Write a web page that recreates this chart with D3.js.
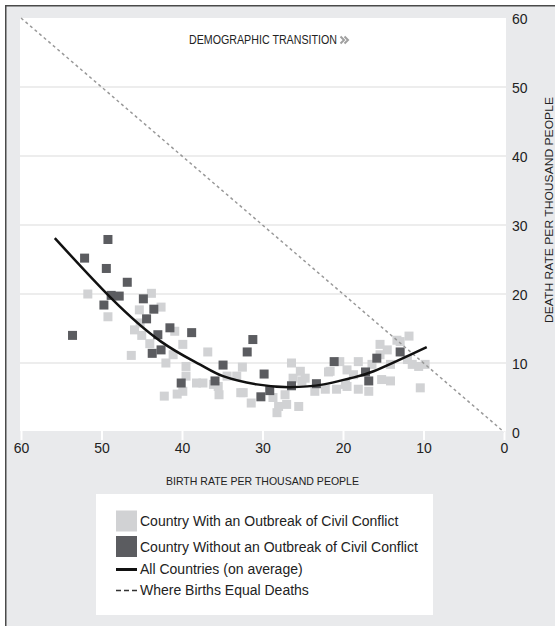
<!DOCTYPE html>
<html>
<head>
<meta charset="utf-8">
<script src="https://cdn.jsdelivr.net/npm/d3@7"></script>
<style>
  body { margin: 0; background: #fff; }
  svg { display: block; font-family: "Liberation Sans", Arial, sans-serif; }
</style>
</head>
<body>
<div id="chart"></div>
<script>
const width = 555;
const height = 626;

// Birth rate (x) and death rate (y), per thousand people
const withConflict = [
  [51.7, 20.0], [49.2, 16.7], [43.8, 20.1], [42.6, 18.1], [45.3, 17.7],
  [45.9, 14.8], [45.0, 14.0], [45.2, 15.8], [44.0, 12.8], [46.3, 11.1],
  [40.9, 14.6], [39.9, 12.7], [42.0, 10.0], [41.1, 11.2], [39.5, 9.5],
  [39.5, 8.1], [38.2, 7.1], [39.9, 5.9], [42.2, 5.2], [40.6, 5.5],
  [36.8, 11.6], [32.5, 9.4], [35.4, 5.4], [33.2, 8.1], [32.4, 5.7],
  [31.4, 4.2], [28.2, 2.8], [28.0, 3.7], [27.0, 4.0], [25.5, 3.7],
  [28.7, 5.0], [27.2, 5.4], [25.3, 8.8], [24.7, 7.8], [26.2, 7.8],
  [23.5, 5.9], [21.8, 8.7], [22.2, 6.2], [20.8, 6.2], [19.5, 9.0],
  [19.7, 6.9], [26.4, 10.0], [25.1, 7.4], [37.4, 7.1], [36.1, 6.9],
  [35.5, 6.6], [34.4, 8.1], [32.7, 5.7], [21.6, 8.8],
  [11.8, 13.9], [12.9, 13.1], [15.4, 12.7], [14.5, 11.9], [15.4, 11.2],
  [13.3, 13.3], [18.1, 10.2], [20.4, 10.2], [16.4, 9.8], [14.1, 9.8],
  [12.0, 10.5], [11.4, 9.8], [10.6, 9.5], [9.8, 9.8], [14.1, 7.4],
  [15.2, 7.6], [18.7, 8.3], [16.8, 5.9], [10.4, 6.4], [18.1, 6.2],
  [19.5, 6.6]
];

const withoutConflict = [
  [49.2, 27.9], [52.1, 25.2], [49.4, 23.7], [46.8, 21.7], [48.8, 19.8],
  [47.8, 19.7], [49.7, 18.4], [44.8, 19.3], [43.5, 17.8], [44.4, 16.4],
  [53.6, 14.0], [41.5, 15.1], [38.8, 14.4], [43.0, 14.1], [42.6, 11.9],
  [43.7, 11.4], [40.1, 7.1], [31.2, 13.4], [31.9, 11.6], [34.9, 9.7],
  [35.9, 7.4], [29.8, 8.4], [29.1, 6.0], [30.2, 5.1], [26.4, 6.7],
  [23.3, 7.0], [21.1, 10.2], [15.8, 10.7], [17.2, 8.7], [16.8, 7.4],
  [12.9, 11.6]
];

// average curve
const averageCurve = [
  [55.8, 28.1], [48.8, 19.4], [42.6, 13.1], [37.8, 9.8], [34.9, 8.1],
  [30.7, 6.9], [26.6, 6.5], [22.4, 6.9], [19.1, 7.8], [16.2, 8.8], [9.6, 12.3]
];

const equalLine = [[60, 60], [0, 0]];

const xTicks = [60, 50, 40, 30, 20, 10, 0];
const yTicks = [0, 10, 20, 30, 40, 50, 60];
const gridValues = [10, 20, 30, 40, 50];

const legendItems = [
  { type: "light", label: "Country With an Outbreak of Civil Conflict" },
  { type: "dark", label: "Country Without an Outbreak of Civil Conflict" },
  { type: "line", label: "All Countries (on average)" },
  { type: "dash", label: "Where Births Equal Deaths" }
];

const lightColor = "#d1d2d4";
const darkColor = "#5b5c60";

const plot = { left: 20, right: 506, top: 18, bottom: 431 };

const svg = d3
    .select("#chart")
    .append("svg")
    .attr("width", width)
    .attr("height", height);

const x = d3.scaleLinear().domain([60, 0]).range([21, 504]);
const y = d3.scaleLinear().domain([0, 60]).range([432, 18]);

// page background and frame
svg.append("rect")
    .attr("x", 5).attr("y", 5)
    .attr("width", width - 5).attr("height", height - 5)
    .attr("fill", "#e9eaec");

svg.append("path")
    .attr("d", `M5.75,${height} V5.75 H${width}`)
    .attr("fill", "none")
    .attr("stroke", "#4a4a4a")
    .attr("stroke-width", 1.5);

// plot area
svg.append("rect")
    .attr("x", plot.left).attr("y", plot.top)
    .attr("width", plot.right - plot.left)
    .attr("height", plot.bottom - plot.top)
    .attr("fill", "#fff");

// Gridlines
svg.append("g")
    .selectAll("line")
    .data(gridValues)
    .join("line")
    .attr("x1", plot.left)
    .attr("x2", plot.right)
    .attr("y1", (d) => y(d))
    .attr("y2", (d) => y(d))
    .attr("stroke", "#ededed")
    .attr("stroke-width", 2);

// Axes
const xAxisG = svg.append("g")
    .attr("transform", `translate(0,${plot.bottom})`)
    .call(d3.axisBottom(x).tickValues(xTicks).tickSize(9).tickPadding(3))
    .call((g) => g.select(".domain").remove());

xAxisG.selectAll(".tick line")
    .attr("stroke", "#fff")
    .attr("stroke-width", 2);
xAxisG.selectAll(".tick text")
    .attr("fill", "#222")
    .attr("font-size", 14)
    .attr("font-family", "Liberation Sans, Arial, sans-serif");

const yAxisG = svg.append("g")
    .attr("transform", `translate(504,0)`)
    .call(d3.axisRight(y).tickValues(yTicks).tickSize(0).tickPadding(8))
    .call((g) => g.select(".domain").remove());

yAxisG.selectAll(".tick text")
    .attr("fill", "#222")
    .attr("font-size", 14)
    .attr("dy", "0.36em")
    .attr("font-family", "Liberation Sans, Arial, sans-serif");

// Axis labels
svg.append("text")
    .attr("x", 166)
    .attr("y", 485)
    .attr("font-size", 11.5)
    .attr("fill", "#222")
    .attr("textLength", 193)
    .attr("lengthAdjust", "spacingAndGlyphs")
    .text("BIRTH RATE PER THOUSAND PEOPLE");

svg.append("text")
    .attr("transform", "translate(553,210) rotate(-90)")
    .attr("text-anchor", "middle")
    .attr("font-size", 11.5)
    .attr("fill", "#222")
    .attr("textLength", 226)
    .attr("lengthAdjust", "spacingAndGlyphs")
    .text("DEATH RATE PER THOUSAND PEOPLE");

svg.append("text")
    .attr("x", 189)
    .attr("y", 44)
    .attr("font-size", 12)
    .attr("fill", "#222")
    .attr("textLength", 148)
    .attr("lengthAdjust", "spacingAndGlyphs")
    .text("DEMOGRAPHIC TRANSITION");

// small double chevron after the title
svg.append("path")
    .attr("d", "M340.5,36.5 L344,40 L340.5,43.5 M344.5,36.5 L348,40 L344.5,43.5")
    .attr("fill", "none")
    .attr("stroke", "#a0a0a0")
    .attr("stroke-width", 2);

// Points
const half = 4.5;
svg.append("g")
    .selectAll("rect")
    .data(withConflict)
    .join("rect")
    .attr("x", (d) => x(d[0]) - half)
    .attr("y", (d) => y(d[1]) - half)
    .attr("width", half * 2)
    .attr("height", half * 2)
    .attr("fill", lightColor);

svg.append("g")
    .selectAll("rect")
    .data(withoutConflict)
    .join("rect")
    .attr("x", (d) => x(d[0]) - half)
    .attr("y", (d) => y(d[1]) - half)
    .attr("width", half * 2)
    .attr("height", half * 2)
    .attr("fill", darkColor);

// Lines
const line = d3.line()
    .x((d) => x(d[0]))
    .y((d) => y(d[1]));

svg.append("path")
    .datum(equalLine)
    .attr("d", line)
    .attr("fill", "none")
    .attr("stroke", "#999")
    .attr("stroke-width", 1.5)
    .attr("stroke-dasharray", "3,3");

svg.append("path")
    .datum(averageCurve)
    .attr("d", line.curve(d3.curveNatural))
    .attr("fill", "none")
    .attr("stroke", "#111")
    .attr("stroke-width", 2.5);

// Legend
const legend = svg.append("g").attr("transform", "translate(96,494)");

legend.append("rect")
    .attr("width", 337)
    .attr("height", 121)
    .attr("fill", "#fff");

const rowY = [27.5, 53, 75.5, 96.5];

const rows = legend.selectAll("g.item")
    .data(legendItems)
    .join("g")
    .attr("class", "item")
    .attr("transform", (d, i) => `translate(20, ${rowY[i]})`);

rows.filter((d) => d.type === "light" || d.type === "dark")
    .append("rect")
    .attr("x", 0)
    .attr("y", -11)
    .attr("width", 21)
    .attr("height", 21)
    .attr("fill", (d) => (d.type === "light" ? lightColor : darkColor));

rows.filter((d) => d.type === "line")
    .append("line")
    .attr("x1", 0).attr("x2", 21)
    .attr("y1", 0).attr("y2", 0)
    .attr("stroke", "#111")
    .attr("stroke-width", 3);

rows.filter((d) => d.type === "dash")
    .append("line")
    .attr("x1", 0).attr("x2", 21)
    .attr("y1", 0).attr("y2", 0)
    .attr("stroke", "#333")
    .attr("stroke-width", 1.3)
    .attr("stroke-dasharray", "5,3");

rows.append("text")
    .attr("x", 24)
    .attr("y", 0)
    .attr("dy", "0.35em")
    .attr("font-size", 14)
    .attr("fill", "#222")
    .text((d) => d.label);
</script>
</body>
</html>
